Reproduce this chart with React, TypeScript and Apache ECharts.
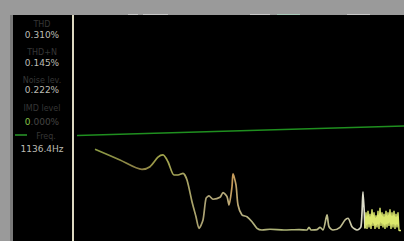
import React, { useEffect, useRef } from "react";
import * as echarts from "echarts";

// Spectrum (bin index, level dB)
const spectrumBins = [21, 46, 68, 76, 84, 89, 94, 100, 104, 109, 113, 118, 122, 125, 129, 132, 135, 139, 146, 149, 153, 155, 158, 159, 162, 164, 168, 173, 178, 183, 188, 196, 210, 225, 233, 235, 237, 243, 246, 249, 253, 255, 259, 266, 271, 274, 278, 283, 287, 289, 291];
const spectrumDb = [-89.1, -96.2, -102.4, -100.7, -94.4, -92.9, -97.4, -106.2, -106.2, -105.1, -109.5, -123.9, -133.9, -141.6, -136.1, -121.7, -120.1, -122.3, -121.0, -117.9, -120.6, -126.1, -114.0, -105.5, -112.8, -126.1, -132.7, -133.9, -137.2, -141.6, -142.7, -142.2, -142.7, -142.4, -142.7, -140.9, -142.7, -142.5, -140.9, -142.7, -132.7, -140.5, -142.7, -140.9, -136.1, -134.9, -140.5, -142.7, -140.5, -117.3, -141.6];

const noiseBins = [291, 292, 293, 294, 295, 296, 297, 298, 299, 300, 301, 302, 303, 304, 305, 306, 307, 308, 309, 310, 311, 312, 313, 314, 315, 316, 317, 318, 319, 320, 321, 322, 323, 324, 325, 327];
const noiseDb = [-141.6, -131, -142, -130, -141, -132, -142, -129, -140, -131, -142, -133, -141, -130, -142, -128, -140, -131, -141, -132, -142, -130, -141, -131, -140, -129, -142, -131, -141, -130, -142, -132, -141, -131, -143, -143];

const refBins = [3, 330];
const refDb = [-80.0, -73.7];

const readingLabels = ["THD", "THD+N", "Noise lev.", "IMD level", "Freq."];
const readingValues = ["0.310%", "0.145%", "0.222%", "0.000%", "1136.4Hz"];

export default function App() {
  const ref = useRef<HTMLDivElement>(null);
  useEffect(() => {
    if (!ref.current) return;
    const chart = echarts.init(ref.current, null, { renderer: "svg" });
    const labelYs = [24, 52, 80, 108, 136];
    const valueYs = [35, 63, 90, 122, 149];
    const texts: any[] = [];
    readingLabels.forEach((t, i) => {
      texts.push({
        type: "text",
        x: i === 4 ? 46 : 42,
        y: labelYs[i],
        z: 10,
        style: { text: t, fill: "#363636", font: "8px 'DejaVu Sans'", align: "center", verticalAlign: "middle" },
      });
    });
    readingValues.forEach((t, i) => {
      const isZero = i === 3;
      texts.push({
        type: "text",
        x: 42,
        y: valueYs[i],
        z: 10,
        style: isZero
          ? {
              text: "{g|0}{d|" + t.slice(1) + "}",
              rich: {
                g: { fill: "#86c046", font: "9px 'DejaVu Sans'" },
                d: { fill: "#444442", font: "9px 'DejaVu Sans'" },
              },
              align: "center",
              verticalAlign: "middle",
            }
          : { text: t, fill: "#bcbcb4", font: "9px 'DejaVu Sans'", align: "center", verticalAlign: "middle" },
      });
    });

    chart.setOption({
      animation: false,
      backgroundColor: "#9a9a9a",
      graphic: [
        { type: "rect", z: -10, shape: { x: 13, y: 15, width: 391, height: 226 }, style: { fill: "#000" } },
        { type: "rect", z: 5, shape: { x: 10, y: 15, width: 3, height: 226 }, style: { fill: "#7a7a7a" } },
        { type: "rect", z: 5, shape: { x: 72, y: 15, width: 2, height: 226 }, style: { fill: "#dcd8c0" } },
        { type: "rect", z: 5, shape: { x: 128, y: 14, width: 10, height: 1 }, style: { fill: "#c8c8c8" } },
        { type: "rect", z: 5, shape: { x: 143, y: 14, width: 25, height: 1 }, style: { fill: "#c8c8c8" } },
        { type: "rect", z: 5, shape: { x: 250, y: 14, width: 20, height: 1 }, style: { fill: "#c8c8c8" } },
        { type: "rect", z: 5, shape: { x: 277, y: 14, width: 23, height: 1 }, style: { fill: "#a8c8b8" } },
        { type: "rect", z: 5, shape: { x: 347, y: 14, width: 23, height: 1 }, style: { fill: "#c8c8c8" } },
        { type: "line", z: 5, shape: { x1: 15, y1: 135, x2: 27, y2: 135 }, style: { stroke: "#2a9a2a", lineWidth: 1.5 } },
        ...texts,
      ],
      grid: { left: 74, right: 0, top: 15, bottom: 0 },
      xAxis: {
        type: "value",
        min: 0,
        max: 330,
        axisLine: { show: false },
        axisTick: { show: false },
        axisLabel: { show: false },
        splitLine: { show: false },
      },
      yAxis: {
        type: "value",
        min: -150,
        max: 0,
        axisLine: { show: false },
        axisTick: { show: false },
        axisLabel: { show: false },
        splitLine: { show: false },
      },
      series: [
        {
          type: "line",
          name: "reference",
          data: refBins.map((b, i) => [b, refDb[i]]),
          showSymbol: false,
          lineStyle: { color: "#1f8f1f", width: 1.5 },
          silent: true,
        },
        {
          type: "line",
          name: "spectrum",
          data: spectrumBins.map((b, i) => [b, spectrumDb[i]]),
          showSymbol: false,
          smooth: 0.25,
          lineStyle: {
            width: 1.7,
            color: new echarts.graphic.LinearGradient(0, 0, 1, 0, [
              { offset: 0, color: "#8c9c44" },
              { offset: 0.17, color: "#8c7e46" },
              { offset: 0.24, color: "#a0a448" },
              { offset: 0.4, color: "#aca274" },
              { offset: 0.49, color: "#b8ac7c" },
              { offset: 0.51, color: "#c89a58" },
              { offset: 0.54, color: "#b4ae80" },
              { offset: 0.7, color: "#acb474" },
              { offset: 0.92, color: "#c0bc90" },
              { offset: 1, color: "#e0e0d0" },
            ]),
          },
          silent: true,
        },
        {
          type: "line",
          name: "noise",
          data: noiseBins.map((b, i) => [b, noiseDb[i]]),
          showSymbol: false,
          lineStyle: { width: 1.4, color: "#dce86c" },
          silent: true,
        },
      ],
    });
    return () => chart.dispose();
  }, []);
  return (
    <div
      ref={ref}
      style={{ position: "fixed", left: 0, top: 0, width: 404, height: 241 }}
    />
  );
}
